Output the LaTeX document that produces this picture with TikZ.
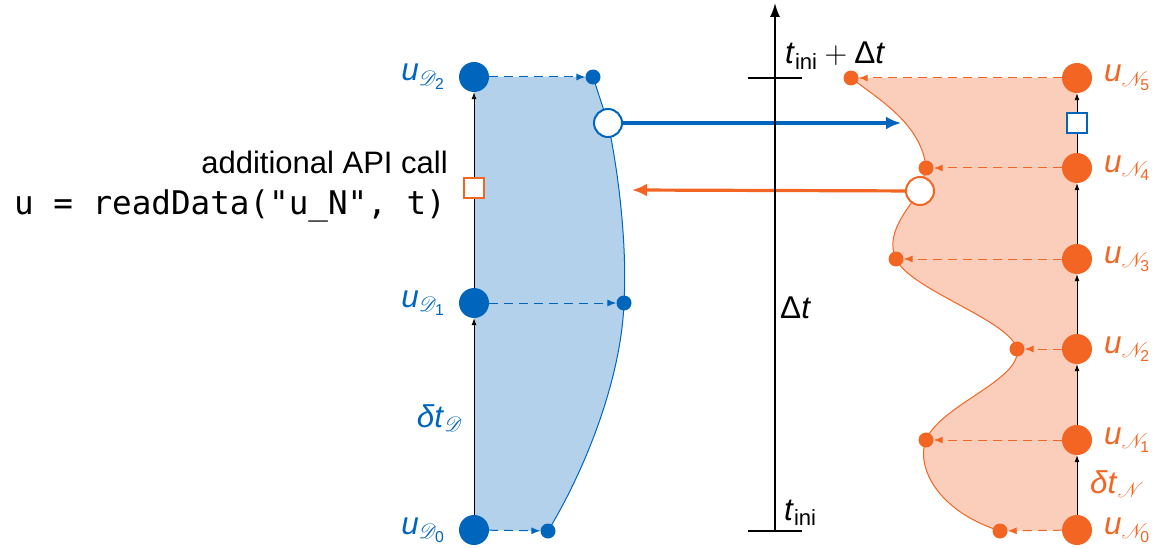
\RequirePackage{fix-cm}
\documentclass[tikz,border=0pt]{standalone}
\usepackage{amsmath}
\usepackage{mathrsfs}
\usepackage{fontspec}
\setmainfont{Liberation Sans}
\newfontfamily\codefont{DejaVu Sans Mono}
\usetikzlibrary{arrows.meta}
\definecolor{cblue}{RGB}{0,101,189}
\definecolor{lblue}{RGB}{179,209,234}
\definecolor{corange}{RGB}{242,101,34}
\definecolor{lorange}{RGB}{250,206,186}
\begin{document}
\begin{tikzpicture}[x=1pt,y=-1pt,
  big/.style={circle,inner sep=0pt,minimum size=30pt,fill=#1},
  smalldot/.style={circle,inner sep=0pt,minimum size=15pt,fill=#1},
  opencirc/.style={circle,inner sep=0pt,minimum size=28pt,draw=#1,line width=2pt,fill=white},
  sqbox/.style={rectangle,inner sep=0pt,minimum size=20pt,draw=#1,line width=2pt,fill=white},
  lab/.style={inner sep=0pt,font=\fontsize{31.5}{38}\selectfont,text=#1},
  varr/.style={-{Latex[length=7pt,width=5pt]},line width=0.9pt},
  darr/.style={draw=#1,line width=1pt,dash pattern=on 9pt off 6pt,-{Latex[length=9pt,width=7pt]}},
  harr/.style={draw=#1,line width=3.2pt,-{Latex[length=15pt,width=13pt]}},
  curveline/.style={draw=#1,line width=1pt},
  axisline/.style={line width=1.8pt},
]
\useasboundingbox (0,0) rectangle (1155,548);
% positions
\coordinate (pD0) at (474,530);
\coordinate (pD1) at (474,303);
\coordinate (pD2) at (474,77);
\coordinate (qD0) at (548,531);
\coordinate (qD1) at (624,303);
\coordinate (qD2) at (593,77);
\coordinate (oD) at (608,123);
\coordinate (pN0) at (1077,530);
\coordinate (pN1) at (1077,440);
\coordinate (pN2) at (1077,349);
\coordinate (pN3) at (1077,259);
\coordinate (pN4) at (1077,168);
\coordinate (pN5) at (1077,78);
\coordinate (qN0) at (1000,531);
\coordinate (qN1) at (926,440);
\coordinate (qN2) at (1017,349);
\coordinate (qN3) at (896,259);
\coordinate (qN4) at (926,168);
\coordinate (qN5) at (851,78);
\coordinate (oN) at (920,191);
% fills
\fill[lblue] (pD2) -- (qD2) -- (oD) .. controls (620,180) and (627,250) .. (qD1) .. controls (621,380) and (585,470) .. (qD0) -- (pD0) -- cycle;
\draw[curveline=cblue] (qD2) -- (oD) .. controls (620,180) and (627,250) .. (qD1) .. controls (621,380) and (585,470) .. (qD0);
\fill[lorange] (pN5) -- (qN5) .. controls (880,100) and (922,125) .. (qN4) -- (oN) .. controls (905,212) and (885,235) .. (qN3) .. controls (910,290) and (1010,320) .. (qN2) .. controls (1022,380) and (940,405) .. (qN1) .. controls (916,465) and (935,510) .. (qN0) -- (pN0) -- cycle;
\draw[curveline=corange] (qN5) .. controls (880,100) and (922,125) .. (qN4) -- (oN) .. controls (905,212) and (885,235) .. (qN3) .. controls (910,290) and (1010,320) .. (qN2) .. controls (1022,380) and (940,405) .. (qN1) .. controls (916,465) and (935,510) .. (qN0);
% nodes
\node[big=cblue] (D0) at (pD0) {};
\node[big=cblue] (D1) at (pD1) {};
\node[big=cblue] (D2) at (pD2) {};
\node[smalldot=cblue] (d0) at (qD0) {};
\node[smalldot=cblue] (d1) at (qD1) {};
\node[smalldot=cblue] (d2) at (qD2) {};
\node[big=corange] (N0) at (pN0) {};
\node[big=corange] (N1) at (pN1) {};
\node[big=corange] (N2) at (pN2) {};
\node[big=corange] (N3) at (pN3) {};
\node[big=corange] (N4) at (pN4) {};
\node[big=corange] (N5) at (pN5) {};
\node[smalldot=corange] (n0) at (qN0) {};
\node[smalldot=corange] (n1) at (qN1) {};
\node[smalldot=corange] (n2) at (qN2) {};
\node[smalldot=corange] (n3) at (qN3) {};
\node[smalldot=corange] (n4) at (qN4) {};
\node[smalldot=corange] (n5) at (qN5) {};
\node[sqbox=corange] (sqL) at (474,188) {};
\node[sqbox=cblue] (sqR) at (1077,123) {};
% vertical arrows
\draw[varr] (D0) -- (D1);
\draw[line width=0.9pt] (D1) -- (sqL);
\draw[varr] (sqL) -- (D2);
\draw[varr] (N0) -- (N1);
\draw[varr] (N1) -- (N2);
\draw[varr] (N2) -- (N3);
\draw[varr] (N3) -- (N4);
\draw[line width=0.9pt] (N4) -- (sqR);
\draw[varr] (sqR) -- (N5);
% dashed arrows
\draw[darr=cblue] (D0) -- (d0);
\draw[darr=cblue] (D1) -- (d1);
\draw[darr=cblue] (D2) -- (d2);
\draw[darr=corange] (N0) -- (n0);
\draw[darr=corange] (N1) -- (n1);
\draw[darr=corange] (N2) -- (n2);
\draw[darr=corange] (N3) -- (n3);
\draw[darr=corange] (N4) -- (n4);
\draw[darr=corange] (N5) -- (n5);
% exchange arrows
\node[opencirc=cblue] (oDn) at (oD) {};
\node[opencirc=corange] (oNn) at (oN) {};
\coordinate (bTip) at (901,123);
\coordinate (oTip) at (632,190);
\draw[harr=cblue] (oDn) -- (bTip);
\draw[harr=corange] (oNn) -- (oTip);
% time axis
\coordinate (axB) at (775,531);
\coordinate (axT) at (775,3);
\draw[axisline,-{Latex[length=14pt,width=10pt]}] (axB) -- (axT);
\coordinate (tkA1) at (748,78);
\coordinate (tkA2) at (802,78);
\coordinate (tkB1) at (748,531);
\coordinate (tkB2) at (802,531);
\draw[axisline] (tkA1) -- (tkA2);
\draw[axisline] (tkB1) -- (tkB2);
\node[lab=black,anchor=base west] (tEnd) at (785,64) {\textit{t}$_{\text{ini}}+{}$Δ\textit{t}};
\node[lab=black,anchor=base west] (tStart) at (784,520) {\textit{t}$_{\text{ini}}$};
\node[lab=black,anchor=base west] (dT) at (780,318) {Δ\textit{t}};
% labels
\node[lab=cblue,anchor=base east] (lD2) at (445,81) {\textit{u}$_{\mathscr{D}_{\text{2}}}$};
\node[lab=cblue,anchor=base east] (lD1) at (445,307) {\textit{u}$_{\mathscr{D}_{\text{1}}}$};
\node[lab=cblue,anchor=base east] (lD0) at (445,534) {\textit{u}$_{\mathscr{D}_{\text{0}}}$};
\node[lab=cblue,anchor=base east] (ldD) at (463,427) {\textit{δt}$_{\mathscr{D}}$};
\node[lab=corange,anchor=base west] (lN5) at (1104,82) {\textit{u}$_{\mathscr{N}_{\text{5}}}$};
\node[lab=corange,anchor=base west] (lN4) at (1104,172) {\textit{u}$_{\mathscr{N}_{\text{4}}}$};
\node[lab=corange,anchor=base west] (lN3) at (1104,263) {\textit{u}$_{\mathscr{N}_{\text{3}}}$};
\node[lab=corange,anchor=base west] (lN2) at (1104,353) {\textit{u}$_{\mathscr{N}_{\text{2}}}$};
\node[lab=corange,anchor=base west] (lN1) at (1104,444) {\textit{u}$_{\mathscr{N}_{\text{1}}}$};
\node[lab=corange,anchor=base west] (lN0) at (1104,534) {\textit{u}$_{\mathscr{N}_{\text{0}}}$};
\node[lab=corange,anchor=base west] (ldN) at (1090,493) {\textit{δt}$_{\mathscr{N}}$};
\node[inner sep=0pt,anchor=base east,font=\fontsize{31}{37}\selectfont] (api) at (448,174) {additional API call};
\node[inner sep=0pt,anchor=base east,font=\codefont\fontsize{32.6}{38}\selectfont] (code) at (446,214) {u = readData("u\_N", t)};
\end{tikzpicture}
\end{document}
